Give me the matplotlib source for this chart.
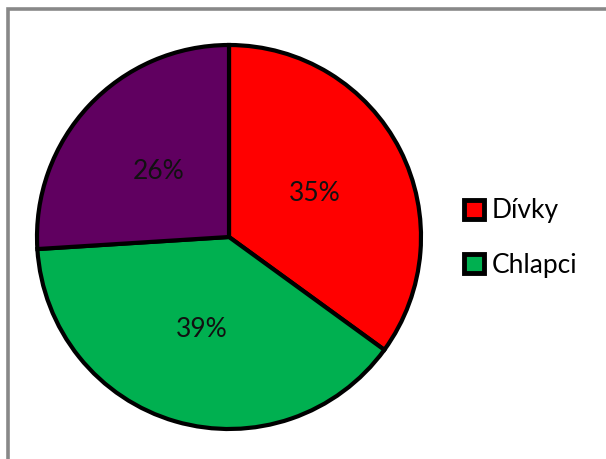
import matplotlib.pyplot as plt
from matplotlib.patches import Patch, Rectangle

labels = ['Dívky', 'Chlapci', '']
values = [35, 39, 26]
colors = ['#FF0000', '#00B050', '#600060']

plt.rcParams['font.family'] = ['Lato', 'DejaVu Sans']

fig = plt.figure(figsize=(6.06, 4.59), dpi=100)

# ram grafu
fig.patches.append(Rectangle((8 / 606, -0.1), 1.2, 450 / 459 + 0.1,
                             transform=fig.transFigure, fill=False,
                             edgecolor='#888888', linewidth=2.6))

r = 192 * 1.05
cx, cy = 229, 459 - 237
ax = fig.add_axes([(cx - r) / 606, (cy - r) / 459, 2 * r / 606, 2 * r / 459])
wedges, texts, autotexts = ax.pie(values, colors=colors, startangle=90, counterclock=False,
                                  autopct='%d%%', pctdistance=0.5,
                                  wedgeprops=dict(edgecolor='black', linewidth=3),
                                  textprops=dict(fontsize=19, color='#111111'))
ax.set_xlim(-1.05, 1.05)
ax.set_ylim(-1.05, 1.05)
ax.set_aspect('equal')
ax.axis('off')

handles = [Patch(facecolor=colors[i], edgecolor='black', linewidth=3.5, label=labels[i]) for i in range(2)]
fig.legend(handles=handles, loc='center left', bbox_to_anchor=(440 / 606, 1 - 238 / 459),
           frameon=False, fontsize=19, handlelength=0.75, handleheight=0.75,
           handletextpad=0.3, labelspacing=1.1)

fig.savefig('out.png', dpi=100)
